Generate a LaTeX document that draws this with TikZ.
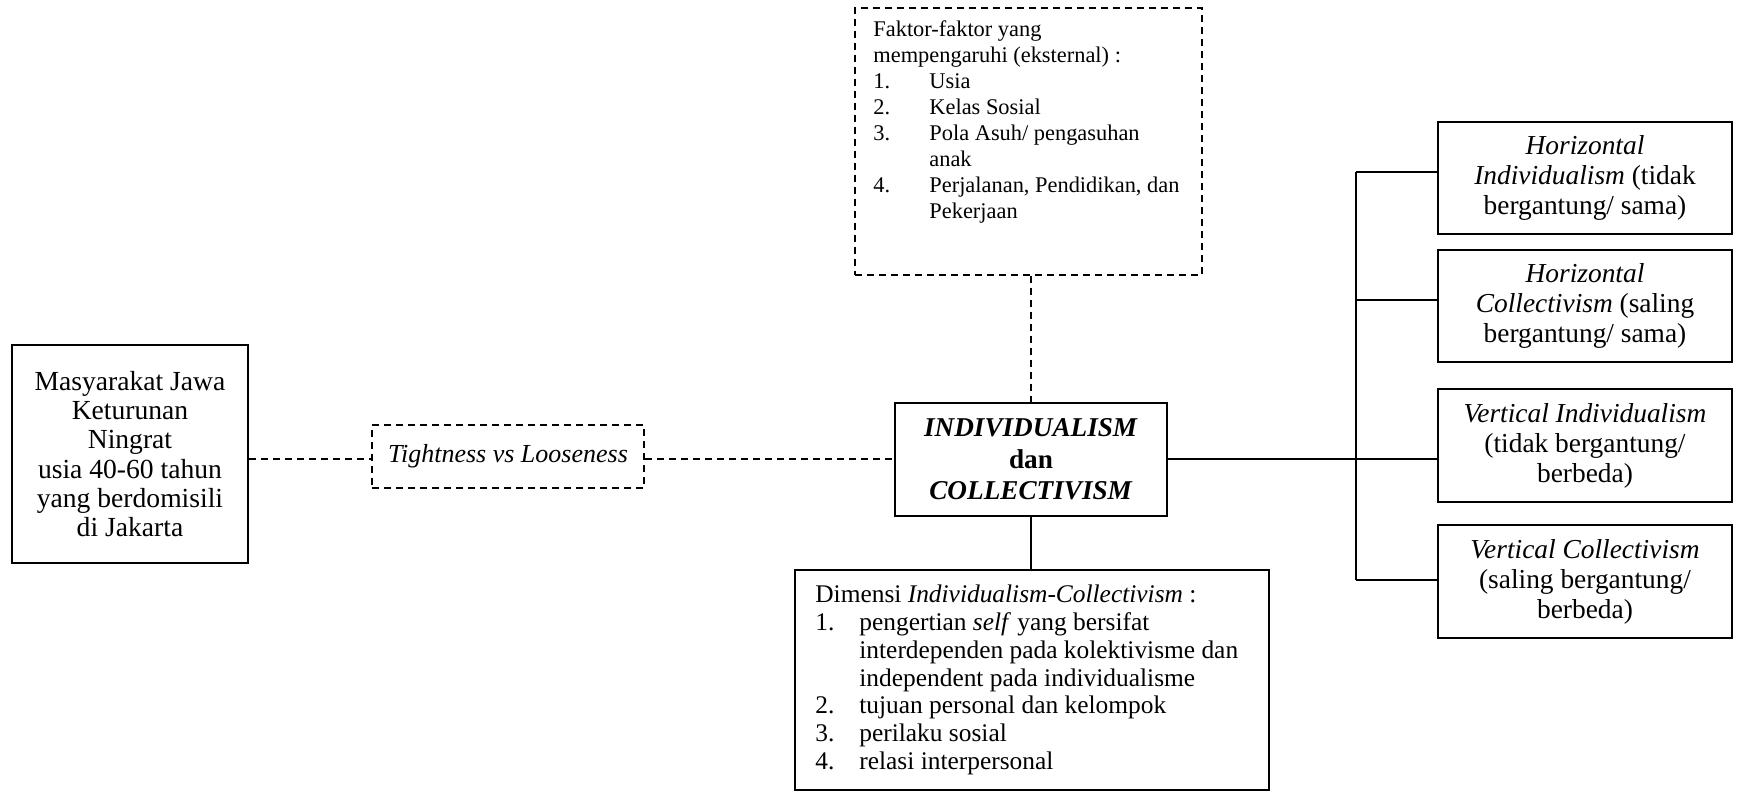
\documentclass[tikz,border=0pt]{standalone}
\usepackage{fontspec}
\setmainfont{Liberation Serif}
\usetikzlibrary{calc}
\begin{document}
\begin{tikzpicture}[x=0.5pt,y=-0.5pt,
  box/.style={draw, line width=1pt, rectangle, inner sep=0pt, align=center},
  dbox/.style={box, dash pattern=on 3.5pt off 2.5pt},
  sline/.style={line width=1pt},
  dline/.style={line width=1pt, dash pattern=on 3.5pt off 2.5pt},
  bigtxt/.style={font=\fontsize{13.8}{14.6}\selectfont},
  rtxt/.style={font=\fontsize{13.7}{15}\selectfont},
  listtxt/.style={inner sep=0pt, anchor=base west},
]
\useasboundingbox (0,0) rectangle (1737,791);

% left box
\node[box, bigtxt, minimum width=118pt, minimum height=109pt] (left) at (130,454)
  {Masyarakat Jawa\\Keturunan\\Ningrat\\usia 40-60 tahun\\yang berdomisili\\di Jakarta};

% tightness box
\node[dbox, minimum width=136pt, minimum height=31.5pt,
  font=\fontsize{13}{14.5}\selectfont\itshape] (tl) at (508,456.5)
  {Tightness vs Looseness};

% core box
\node[box, minimum width=136pt, minimum height=56.5pt,
  font=\fontsize{13.6}{15.75}\selectfont\bfseries] (core) at (1031,459.5)
  {\textit{INDIVIDUALISM}\\dan\\\textit{COLLECTIVISM}};

% external factors box
\node[dbox, minimum width=173.5pt, minimum height=133.5pt] (ext) at (1028.5,141.5) {};
\node[listtxt, font=\fontsize{11.2}{12.95}\selectfont] (exttxt) at (873,37)
  {\begin{tabular}[t]{@{}l@{}}
   Faktor-faktor yang\\
   mempengaruhi (eksternal) :\\
   \makebox[28pt][l]{1.}Usia\\
   \makebox[28pt][l]{2.}Kelas Sosial\\
   \makebox[28pt][l]{3.}Pola Asuh/ pengasuhan\\
   \makebox[28pt][l]{}anak\\
   \makebox[28pt][l]{4.}Perjalanan, Pendidikan, dan\\
   \makebox[28pt][l]{}Pekerjaan
   \end{tabular}};

% dimension box
\node[box, minimum width=237pt, minimum height=110pt] (dim) at (1032,680) {};
\node[listtxt, font=\fontsize{12.7}{13.85}\selectfont] (dimtxt) at (815,603)
  {\begin{tabular}[t]{@{}l@{}}
   Dimensi \textit{Individualism-Collectivism} :\\
   \makebox[22pt][l]{1.}pengertian \textit{self} yang bersifat\\
   \makebox[22pt][l]{}interdependen pada kolektivisme dan\\
   \makebox[22pt][l]{}independent pada individualisme\\
   \makebox[22pt][l]{2.}tujuan personal dan kelompok\\
   \makebox[22pt][l]{3.}perilaku sosial\\
   \makebox[22pt][l]{4.}relasi interpersonal
   \end{tabular}};

% right boxes
\node[box, rtxt, minimum width=147pt, minimum height=56pt] (hi) at (1585,178)
  {\textit{Horizontal}\\\textit{Individualism} (tidak\\bergantung/ sama)};
\node[box, rtxt, minimum width=147pt, minimum height=56pt] (hc) at (1585,306)
  {\textit{Horizontal}\\\textit{Collectivism} (saling\\bergantung/ sama)};
\node[box, rtxt, minimum width=147pt, minimum height=56.5pt] (vi) at (1585,445.5)
  {\textit{Vertical Individualism}\\(tidak bergantung/\\berbeda)};
\node[box, rtxt, minimum width=147pt, minimum height=56.5pt] (vc) at (1585,581.5)
  {\textit{Vertical Collectivism}\\(saling bergantung/\\berbeda)};

% trunk coordinates
\coordinate (j1) at (1356,172);
\coordinate (j2) at (1356,300);
\coordinate (j4) at (1356,580);

% connectors
\draw[dline] (left.east |- core.west) -- (tl.west |- core.west);
\draw[dline] (tl.east |- core.west) -- (core.west);
\draw[dline] (core.north |- ext.south) -- (core.north);
\draw[sline] (core.south) -- (core.south |- dim.north);
\draw[sline] (core.east) -- (core.east -| j1);
\draw[sline] (j1) -- (j4);
\draw[sline] (j1) -- (j1 -| hi.west);
\draw[sline] (j2) -- (j2 -| hc.west);
\draw[sline] (core.east -| j1) -- (core.east -| vi.west);
\draw[sline] (j4) -- (j4 -| vc.west);
\end{tikzpicture}
\end{document}
